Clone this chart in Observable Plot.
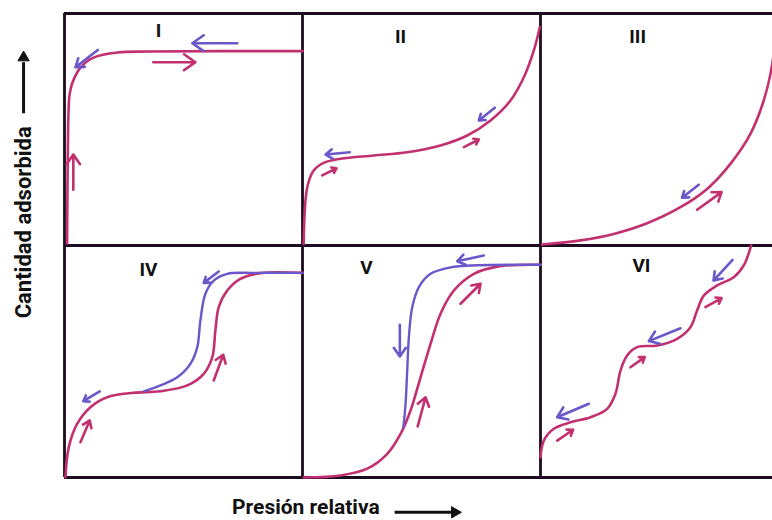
<!DOCTYPE html>
<html>
<head>
<meta charset="utf-8">
<script src="https://cdn.jsdelivr.net/npm/d3@7"></script>
<script src="https://cdn.jsdelivr.net/npm/@observablehq/plot@0.6"></script>
<style>
  html, body { margin: 0; padding: 0; background: #ffffff; }
  #chart svg { display: block; }
</style>
</head>
<body>
<div id="chart"></div>
<script>
// Panel names and their grid cell (column, row) — row 1 is top, row 0 bottom
const panelNames = ["I", "II", "III", "IV", "V", "VI"];
const panelCol = [0, 1, 2, 0, 1, 2];
const panelRow = [1, 1, 1, 0, 0, 0];
// Label positions inside each panel (percent of panel width / height)
const labelU = [39.5, 41.2, 40.8, 35.3, 26.9, 42.4];
const labelV = [92.4, 90.1, 90.1, 89.5, 90.5, 91.0];

// Adsorption (pink) curves, [u %, v %] within each panel
const adsI = [[1.1,0.9],[1.7,58.2],[2.1,64.7],[3.2,69.8],[6.7,76.7],[12.2,81.0],[22.3,83.2],[36.1,83.6],[100,83.8]];
const adsII = [[0.5,0.7],[2.0,25.1],[4.7,32.3],[8.9,35.6],[16.0,37.4],[30.0,38.8],[44.0,40.2],[58.0,43.1],[69.2,47.4],[79.0,53.9],[87.4,62.5],[93.0,72.5],[97.2,84.1],[99.7,94.1]];
const adsIII = [[0.7,0.4],[16.8,2.2],[30.8,5.0],[44.8,9.6],[58.8,16.5],[70.0,24.4],[79.8,35.2],[88.2,48.1],[93.8,62.5],[97.4,78.3],[98.7,91.4]];
const adsIV = [[0.4,0.1],[1.8,13.1],[5.3,23.1],[10.9,30.3],[17.9,34.6],[29.1,36.5],[40.3,37.2],[51.6,39.7],[58.5,44.7],[62.1,51.9],[63.4,63.4],[64.8,73.4],[68.4,80.6],[73.9,85.6],[82.4,88.1],[100,88.2]];
const adsV = [[0.5,0.0],[16.0,0.9],[27.2,3.8],[35.6,10.2],[41.2,18.8],[45.4,28.9],[49.6,43.2],[53.8,57.6],[58.0,70.6],[63.6,80.6],[72.0,87.8],[81.8,90.9],[100,91.7]];
const adsVI = [[0,8.8],[1.4,15.9],[5.6,21.0],[12.6,23.8],[21.0,26.0],[28.0,29.6],[31.5,36.1],[33.6,46.1],[36.4,52.6],[40.6,56.2],[49.0,56.9],[57.4,59.8],[63.0,64.8],[65.8,72.0],[68.6,78.4],[74.2,82.8],[81.2,86.3],[85.4,91.4],[88.5,100]];

// Desorption (blue) branches with hysteresis
const desIV = [[33.3,37.1],[40.3,39.7],[47.4,43.2],[52.9,49.0],[55.8,56.2],[57.1,67.7],[59.2,79.2],[62.7,84.9],[68.4,87.8],[79.5,88.2],[100,88.2]];
const desV = [[42.4,21.7],[43.3,31.8],[44.0,46.1],[44.7,60.5],[46.1,73.4],[48.9,82.1],[53.8,87.8],[62.2,90.6],[73.4,91.5],[100,91.7]];

// Direction arrows: [panelIndex, u1, v1, u2, v2]
const arrowsAds = [
  [0,37.3,79.0,55.0,79.0],[0,3.7,24.0,3.7,39.2],
  [1,8.3,30.2,14.3,33.3],[1,67.8,42.4,74.1,45.7],
  [2,65.8,15.4,76.1,23.0],
  [3,62.7,41.8,66.7,52.9],[3,6.7,15.2,10.6,24.6],
  [4,66.4,74.9,74.8,83.5],[4,48.4,22.0,51.7,34.6],
  [5,69.3,73.4,76.1,77.3],[5,37.8,47.5,43.8,51.9],[5,7.0,15.9,13.7,20.6]
];
const arrowsDes = [
  [0,14.0,84.3,4.6,76.8],[0,72.6,87.2,53.7,87.2],
  [1,19.9,40.2,9.7,39.2],[1,80.8,59.4,74.1,53.9],
  [2,66.5,26.2,59.5,20.6],
  [3,64.8,88.8,58.5,83.9],[3,14.8,37.1,7.9,32.9],
  [4,76.2,95.7,65.0,93.2],[4,40.9,65.8,40.9,52.2],
  [5,80.7,93.8,72.7,84.9],[5,58.8,64.3,45.5,58.8],[5,20.3,31.8,7.0,26.0]
];

const yLabel = "Cantidad adsorbida";
const xLabel = "Presión relativa";

const PINK = "#c2306f";
const BLUE = "#6b57c9";
const INK = "#1c0c1f";
const TXT = "#111111";

const toX = (i, u) => panelCol[i] + u / 100;
const toY = (i, v) => panelRow[i] + v / 100;

function curveRows(arr, i, series) {
  return arr.map(([u, v]) => ({x: toX(i, u), y: toY(i, v), series}));
}
const adsRows = [adsI, adsII, adsIII, adsIV, adsV, adsVI].flatMap((a, i) => curveRows(a, i, "ads" + i));
const desRows = [...curveRows(desIV, 3, "des3"), ...curveRows(desV, 4, "des4")];
const arrowRows = (list) => list.map(([i, u1, v1, u2, v2]) => ({x1: toX(i, u1), y1: toY(i, v1), x2: toX(i, u2), y2: toY(i, v2)}));
const labelRows = panelNames.map((n, i) => ({name: n, x: toX(i, labelU[i]), y: toY(i, labelV[i])}));

const chart = Plot.plot({
  width: 772,
  height: 520,
  margin: 0,
  style: {background: "#ffffff", overflow: "hidden"},
  x: {domain: [0, 3], range: [64, 778], axis: null},
  y: {domain: [0, 2], range: [477, 13], axis: null},
  marks: [
    Plot.ruleX([0, 1, 2], {y1: 0, y2: 2, stroke: INK, strokeWidth: 2.8}),
    Plot.ruleY([0, 1, 2], {x1: 0, x2: 3, stroke: INK, strokeWidth: 2.8}),
    Plot.line(adsRows, {x: "x", y: "y", z: "series", stroke: PINK, strokeWidth: 2.6, curve: "catmull-rom"}),
    Plot.line(desRows, {x: "x", y: "y", z: "series", stroke: BLUE, strokeWidth: 2.4, curve: "catmull-rom"}),
    Plot.arrow(arrowRows(arrowsAds), {x1: "x1", y1: "y1", x2: "x2", y2: "y2", stroke: PINK, strokeWidth: 2.6, headLength: 8, headAngle: 70}),
    Plot.arrow(arrowRows(arrowsDes), {x1: "x1", y1: "y1", x2: "x2", y2: "y2", stroke: BLUE, strokeWidth: 2.6, headLength: 8, headAngle: 70}),
    Plot.text(labelRows, {x: "x", y: "y", text: "name", fill: TXT, fontSize: 19, fontWeight: "bold", fontFamily: "Roboto, sans-serif"}),
    // y axis title with upward arrow
    Plot.text([yLabel], {x: -0.172, y: 1.10, text: d => d, rotate: -90, fill: TXT, fontSize: 22, fontWeight: "bold", fontFamily: "Roboto, sans-serif"}),
    Plot.link([0], {x1: -0.172, y1: 1.57, x2: -0.172, y2: 1.79, stroke: TXT, strokeWidth: 3}),
    Plot.dot([0], {x: -0.172, y: 1.81, symbol: "triangle", r: 4.2, fill: TXT, stroke: TXT, strokeWidth: 1}),
    // x axis title with rightward arrow
    Plot.text([xLabel], {x: 1.014, y: -0.128, text: d => d, fill: TXT, fontSize: 21, fontWeight: "bold", fontFamily: "Roboto, sans-serif"}),
    Plot.link([0], {x1: 1.387, y1: -0.150, x2: 1.625, y2: -0.150, stroke: TXT, strokeWidth: 3}),
    Plot.dot([0], {x: 1.64, y: -0.150, symbol: "triangle", r: 4.2, rotate: 90, fill: TXT, stroke: TXT, strokeWidth: 1})
  ]
});
document.getElementById("chart").appendChild(chart);
</script>
</body>
</html>
